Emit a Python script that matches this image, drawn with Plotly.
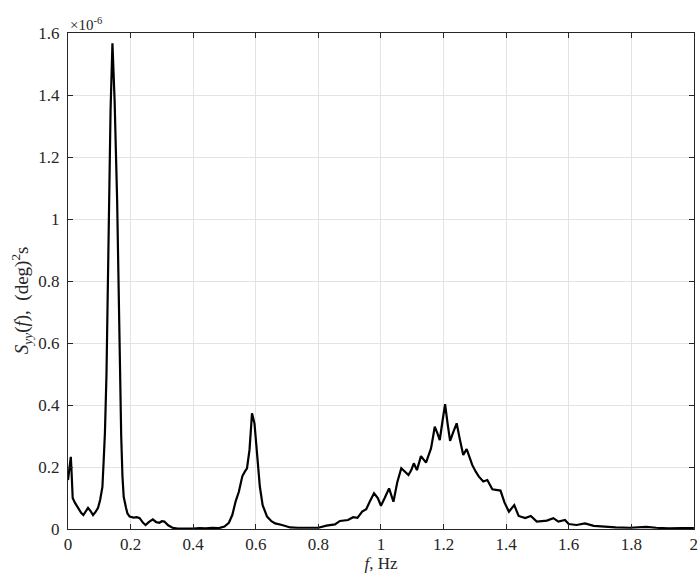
import plotly.graph_objects as go

# Frequency (Hz)
freq = [0.000, 0.005, 0.009, 0.012, 0.015, 0.022, 0.028, 0.035, 0.042, 0.049,
        0.057, 0.064, 0.072, 0.080, 0.088, 0.096, 0.103, 0.110, 0.114, 0.118,
        0.123, 0.127, 0.131, 0.136, 0.142, 0.149, 0.157, 0.165, 0.170, 0.174,
        0.178, 0.185, 0.190, 0.197, 0.210, 0.220, 0.229, 0.240, 0.248, 0.258,
        0.271, 0.282, 0.292, 0.300, 0.308, 0.320, 0.334, 0.350, 0.377, 0.400,
        0.420, 0.440, 0.460, 0.483, 0.500, 0.514, 0.525, 0.536, 0.546, 0.557,
        0.565, 0.572, 0.580, 0.588, 0.596, 0.604, 0.613, 0.622, 0.636, 0.650,
        0.662, 0.684, 0.710, 0.735, 0.758, 0.800, 0.826, 0.853, 0.869, 0.895,
        0.911, 0.925, 0.940, 0.953, 0.964, 0.978, 0.990, 1.000, 1.012, 1.026,
        1.040, 1.052, 1.065, 1.078, 1.088, 1.097, 1.105, 1.115, 1.128, 1.144,
        1.160, 1.167, 1.172, 1.180, 1.188, 1.197, 1.205, 1.213, 1.221, 1.232,
        1.242, 1.252, 1.263, 1.274, 1.283, 1.292, 1.303, 1.313, 1.327, 1.340,
        1.356, 1.370, 1.382, 1.395, 1.409, 1.426, 1.440, 1.461, 1.479, 1.498,
        1.515, 1.530, 1.551, 1.567, 1.588, 1.600, 1.625, 1.652, 1.680, 1.710,
        1.750, 1.795, 1.820, 1.848, 1.880, 1.920, 1.960, 2.000]

# Spectral density S_yy(f), in units of 1e-6 (deg)^2 s
psd = [0.158, 0.200, 0.233, 0.170, 0.100, 0.085, 0.074, 0.065, 0.052, 0.045,
       0.058, 0.068, 0.058, 0.045, 0.055, 0.068, 0.095, 0.136, 0.220, 0.310,
       0.500, 0.750, 1.060, 1.350, 1.567, 1.380, 1.060, 0.520, 0.300, 0.170,
       0.104, 0.070, 0.050, 0.040, 0.037, 0.038, 0.035, 0.020, 0.013, 0.022,
       0.031, 0.022, 0.020, 0.025, 0.024, 0.012, 0.004, 0.001, 0.000, 0.001,
       0.003, 0.002, 0.004, 0.003, 0.008, 0.020, 0.045, 0.090, 0.120, 0.170,
       0.185, 0.196, 0.255, 0.373, 0.340, 0.233, 0.137, 0.077, 0.040, 0.025,
       0.018, 0.013, 0.005, 0.004, 0.004, 0.004, 0.011, 0.015, 0.026, 0.029,
       0.038, 0.036, 0.056, 0.064, 0.088, 0.115, 0.100, 0.075, 0.100, 0.131,
       0.088, 0.150, 0.196, 0.185, 0.174, 0.190, 0.212, 0.190, 0.235, 0.214,
       0.260, 0.300, 0.330, 0.310, 0.287, 0.350, 0.403, 0.340, 0.284, 0.315,
       0.341, 0.290, 0.239, 0.258, 0.230, 0.206, 0.185, 0.169, 0.153, 0.158,
       0.128, 0.125, 0.124, 0.085, 0.056, 0.077, 0.042, 0.035, 0.042, 0.024,
       0.025, 0.027, 0.035, 0.024, 0.029, 0.016, 0.013, 0.018, 0.010, 0.007,
       0.005, 0.004, 0.005, 0.007, 0.004, 0.002, 0.003, 0.003]

x_ticks = [0, 0.2, 0.4, 0.6, 0.8, 1.0, 1.2, 1.4, 1.6, 1.8, 2.0]
x_tick_text = ["0", "0.2", "0.4", "0.6", "0.8", "1", "1.2", "1.4", "1.6", "1.8", "2"]
y_ticks = [0, 0.2, 0.4, 0.6, 0.8, 1.0, 1.2, 1.4, 1.6]
y_tick_text = ["0", "0.2", "0.4", "0.6", "0.8", "1", "1.2", "1.4", "1.6"]

FONT = "Liberation Serif, Times New Roman, serif"
TXT = "#262626"

fig = go.Figure()
fig.add_trace(go.Scatter(x=freq, y=psd, mode="lines",
                         line=dict(color="black", width=2.2), showlegend=False))

axis_common = dict(
    showline=True, linecolor="#262626", linewidth=1, mirror="ticks",
    ticks="inside", ticklen=5, tickcolor="#262626",
    showgrid=True, gridcolor="#e3e3e3", gridwidth=1,
    zeroline=False,
    tickfont=dict(family=FONT, size=17, color=TXT),
)

fig.update_layout(
    width=700, height=578,
    margin=dict(l=68, r=2, t=33, b=49),
    paper_bgcolor="white", plot_bgcolor="white",
    xaxis=dict(range=[0, 2.0004], tickvals=x_ticks, ticktext=x_tick_text,
               ticklabeloverflow="allow",
               title=dict(text="<i>f</i>, Hz", font=dict(family=FONT, size=17, color=TXT),
                          standoff=2),
               **axis_common),
    yaxis=dict(range=[0, 1.6], tickvals=y_ticks, ticktext=y_tick_text,
               ticklabelstandoff=4,
               **axis_common),
    annotations=[
        dict(text="<i>S</i><sub><i>yy</i></sub>(<i>f</i>),  (deg)<sup>2</sup>s",
             xref="paper", yref="paper", x=-0.073, y=0.462,
             xanchor="center", yanchor="middle", textangle=-90,
             showarrow=False, font=dict(family=FONT, size=19, color=TXT)),
        dict(text="×10<sup>-6</sup>", xref="paper", yref="paper",
             x=0.0, y=1.0, xanchor="left", yanchor="bottom", yshift=-2,
             showarrow=False, font=dict(family=FONT, size=15, color=TXT)),
    ],
)

fig.write_html("out.html")
